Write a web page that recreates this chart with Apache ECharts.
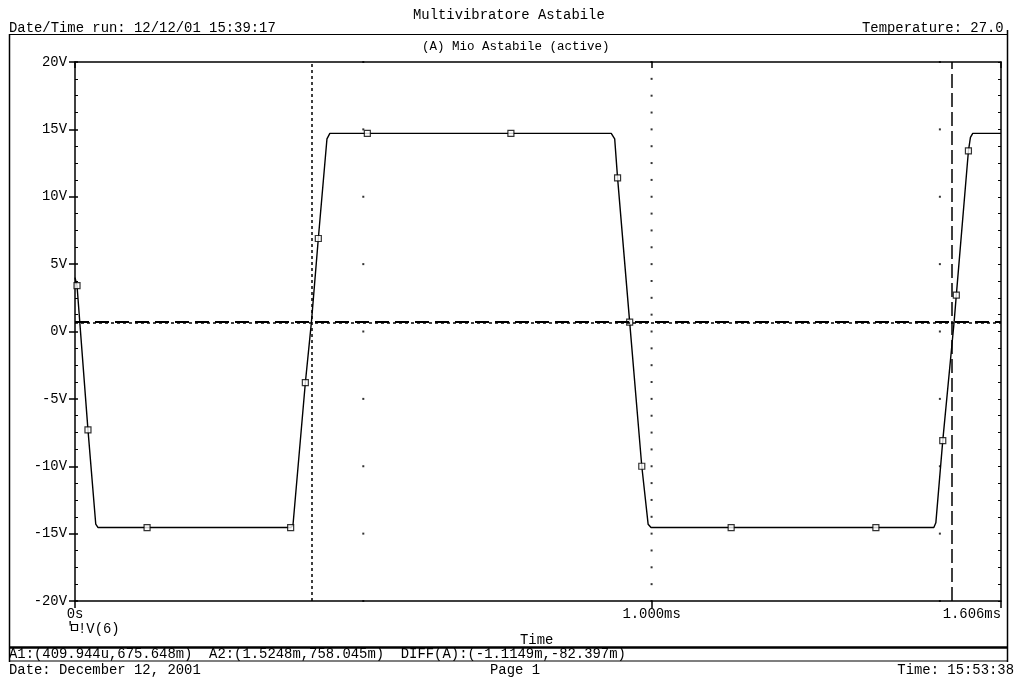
<!DOCTYPE html>
<html>
<head>
<meta charset="utf-8">
<script src="https://cdn.jsdelivr.net/npm/echarts@6/dist/echarts.min.js"></script>
<style>
html,body{margin:0;padding:0;background:#fff;}
#chart{width:1015px;height:679px;}
</style>
</head>
<body>
<div id="chart"></div>
<script>
// ---- data (time in ms, voltage in V) ----
const timeMs = [0.000, 0.0035, 0.0225, 0.036, 0.040, 0.125, 0.374, 0.378, 0.3995, 0.410, 0.422, 0.437, 0.442,
  0.507, 0.756, 0.930, 0.936, 0.941, 0.962, 0.983, 0.994, 0.999, 1.138, 1.389, 1.4895, 1.493, 1.505, 1.5248,
  1.5285, 1.5495, 1.553, 1.557, 1.606];
const voltV = [4.0, 3.4, -7.3, -14.3, -14.55, -14.55, -14.55, -14.4, -3.8, 0.68, 6.9, 14.3, 14.7,
  14.7, 14.7, 14.7, 14.3, 11.4, 0.7, -10.0, -14.3, -14.55, -14.55, -14.55, -14.55, -14.2, -8.1, 0.76,
  2.7, 13.4, 14.4, 14.7, 14.7];
const markerTimeMs = [0.0035, 0.0225, 0.125, 0.374, 0.3995, 0.422, 0.507, 0.756, 0.941, 0.962, 0.983, 1.138, 1.389, 1.505, 1.5285, 1.5495];
const markerVoltV = [3.4, -7.3, -14.55, -14.55, -3.8, 6.9, 14.7, 14.7, 11.4, 0.7, -10.0, -14.55, -14.55, -8.1, 2.7, 13.4];
const xTickValues = [0, 1.0, 1.606];
const xTickLabels = ['0s', '1.000ms', '1.606ms'];
const yMin = -20, yMax = 20, yStep = 5;
const cursorA1 = [0.409944, 0.675648];
const cursorA2 = [1.5248, 0.758045];
const sparseGridTimes = [0.5, 1.5];
const denseGridTimes = [1.0];
const seriesName = 'V(6)';

// ---- build ----
const FONT = 'Liberation Mono';
const lineData = timeMs.map((t, i) => [t, voltV[i]]);
const markerData = markerTimeMs.map((t, i) => [t, markerVoltV[i]]);
const gridDots = [];
sparseGridTimes.forEach(t => { for (let v = yMin; v <= yMax; v += yStep) gridDots.push([t, v]); });
denseGridTimes.forEach(t => { for (let v = yMin; v <= yMax + 1e-9; v += yStep / 4) gridDots.push([t, v]); });

const chart = echarts.init(document.getElementById('chart'), null, {renderer: 'canvas'});
const txt = {fontFamily: FONT, fontSize: 13.9, color: '#000'};
const gtxt = (x, y, s, align, size) => ({
  type: 'text', x: x, y: y, silent: true,
  style: {text: s, fill: '#000', font: (size || 13.9) + 'px "' + FONT + '"', textAlign: align || 'left', textVerticalAlign: 'middle'}
});
const gline = (x1, y1, x2, y2, w) => ({
  type: 'line', silent: true, shape: {x1: x1, y1: y1, x2: x2, y2: y2},
  style: {stroke: '#000', lineWidth: w || 1}
});

const option = {
  animation: false,
  backgroundColor: '#fff',
  grid: {left: 75, right: 14, top: 62, bottom: 78},
  xAxis: [{
    type: 'value', min: 0, max: 1.606, position: 'bottom',
    axisLine: {show: true, onZero: false, lineStyle: {color: '#000', width: 1.5}},
    axisTick: {show: true, customValues: xTickValues, length: 7, lineStyle: {color: '#000', width: 1.5}},
    axisLabel: {show: true, customValues: xTickValues, margin: 6, alignMaxLabel: 'right',
      formatter: v => { const i = xTickValues.findIndex(x => Math.abs(x - v) < 1e-6); return i >= 0 ? xTickLabels[i] : ''; },
      ...txt},
    splitLine: {show: false}
  }, {
    type: 'value', min: 0, max: 1.606, position: 'top',
    axisLine: {show: true, onZero: false, lineStyle: {color: '#000', width: 1.5}},
    axisTick: {show: true, inside: true, customValues: xTickValues, length: 6, lineStyle: {color: '#000', width: 1.5}},
    axisLabel: {show: false}, splitLine: {show: false}
  }],
  yAxis: [{
    type: 'value', min: yMin, max: yMax, interval: yStep, position: 'left',
    axisLine: {show: true, onZero: false, lineStyle: {color: '#000', width: 1.5}},
    axisTick: {show: true, length: 6, lineStyle: {color: '#000', width: 1.5}},
    axisLabel: {show: true, margin: 8, formatter: v => v + 'V', ...txt},
    splitLine: {show: false}
  }, {
    type: 'value', min: yMin, max: yMax, interval: yStep, position: 'left',
    axisLine: {show: false},
    axisTick: {show: true, inside: true, length: 3, lineStyle: {color: '#000', width: 1.5}},
    minorTick: {show: true, splitNumber: 4, length: 3, lineStyle: {color: '#000', width: 1}},
    axisLabel: {show: false}, splitLine: {show: false}
  }, {
    type: 'value', min: yMin, max: yMax, interval: yStep, position: 'right',
    axisLine: {show: true, onZero: false, lineStyle: {color: '#000', width: 1.5}},
    axisTick: {show: true, inside: true, length: 3, lineStyle: {color: '#000', width: 1}},
    minorTick: {show: true, splitNumber: 4, length: 3, lineStyle: {color: '#000', width: 1}},
    axisLabel: {show: false}, splitLine: {show: false}
  }],
  series: [{
    type: 'scatter', name: 'grid', data: gridDots, symbol: 'rect', symbolSize: 2,
    itemStyle: {color: '#000'}, silent: true, z: 1
  }, {
    type: 'line', name: seriesName, data: lineData, showSymbol: false, symbol: 'none',
    lineStyle: {color: '#000', width: 1.4}, z: 3, silent: true,
    markLine: {
      silent: true, symbol: 'none', label: {show: false}, animation: false,
      data: [
        {xAxis: cursorA1[0], lineStyle: {color: '#000', width: 1.5, type: [3, 3]}},
        {xAxis: cursorA2[0], lineStyle: {color: '#000', width: 1.5, type: [14, 5]}},
        {yAxis: cursorA1[1], lineStyle: {color: '#000', width: 1.5, type: [3, 3]}},
        {yAxis: cursorA2[1], lineStyle: {color: '#000', width: 2, type: [14, 6]}}
      ]
    }
  }, {
    type: 'scatter', name: seriesName + ' markers', data: markerData, symbol: 'rect', symbolSize: 6,
    itemStyle: {color: '#fff', borderColor: '#000', borderWidth: 1.2}, z: 4, silent: true
  }],
  graphic: [
    gtxt(413, 15, 'Multivibratore Astabile'),
    gtxt(9, 28, 'Date/Time run: 12/12/01 15:39:17'),
    gtxt(862, 28, 'Temperature: 27.0'),
    gline(9, 34.5, 1007, 34.5, 1.2),
    gline(9.5, 34, 9.5, 662, 1.5),
    gline(1007.5, 30, 1007.5, 662, 1.5),
    gtxt(422, 47, '(A) Mio Astabile (active)', 'left', 12.5),
    gtxt(66, 628, "'"),
    {type: 'rect', silent: true, shape: {x: 71.5, y: 624.5, width: 6, height: 6}, style: {fill: '#fff', stroke: '#000', lineWidth: 1.2}},
    gtxt(78, 629, '!' + seriesName),
    gtxt(520, 640, 'Time'),
    gline(9, 647.5, 1007, 647.5, 2.5),
    gtxt(9, 654, 'A1:(409.944u,675.648m)  A2:(1.5248m,758.045m)  DIFF(A):(-1.1149m,-82.397m)'),
    gline(9, 661, 1007, 661, 1.2),
    gtxt(9, 670, 'Date: December 12, 2001'),
    gtxt(490, 670, 'Page 1'),
    gtxt(1014, 670, 'Time: 15:53:38', 'right')
  ]
};
chart.setOption(option);
</script>
</body>
</html>
